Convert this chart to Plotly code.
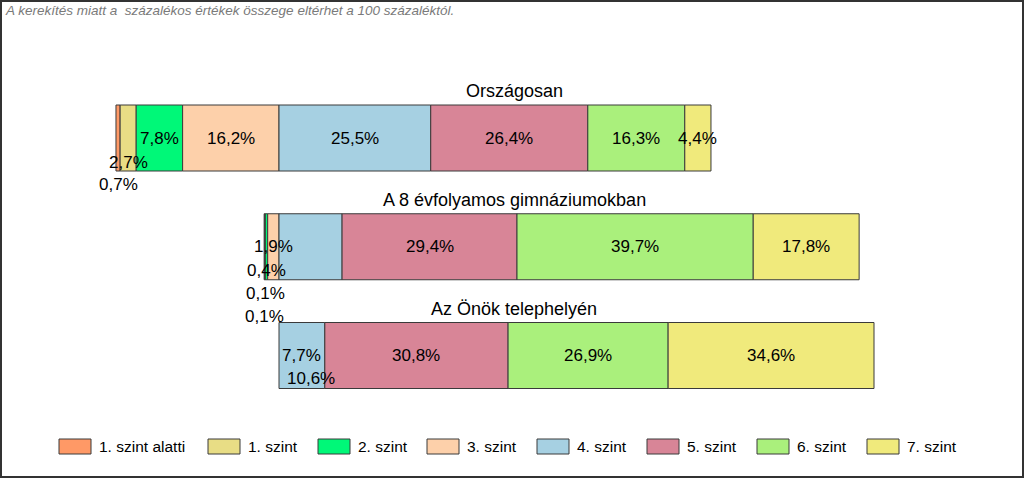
import plotly.graph_objects as go

# ---- data ----
groups = ["Országosan", "A 8 évfolyamos gimnáziumokban", "Az Önök telephelyén"]
levels = ["1. szint alatti", "1. szint", "2. szint", "3. szint",
          "4. szint", "5. szint", "6. szint", "7. szint"]
orszagosan = [0.7, 2.7, 7.8, 16.2, 25.5, 26.4, 16.3, 4.4]
gimnazium8 = [0.1, 0.1, 0.4, 1.9, 10.6, 29.4, 39.7, 17.8]
telephely = [0.0, 0.0, 0.0, 0.0, 7.7, 30.8, 26.9, 34.6]
note = "A kerekítés miatt a  százalékos értékek összege eltérhet a 100 százaléktól."

# ---- style ----
colors = ["#FF9966", "#E8DD85", "#00F878", "#FDD0AA",
          "#A6D0E2", "#D88597", "#AAF07C", "#F0EA7C"]
FONT = "Liberation Sans, Arial, sans-serif"
W, H = 1024, 478
X_ZERO_PX = 279.0      # pixel where level 4 starts
PX_PER_UNIT = 5.95
Y0_PX = 138.0          # pixel of first bar centre
Y_STEP_PX = 108.75
BAR_W = 66 / Y_STEP_PX

# label y-shifts (pixels) for labels that sit outside their segment
label_shift = {
    (0, 0): -46, (0, 1): -24,
    (1, 0): -70, (1, 1): -47, (1, 2): -23.5, (1, 4): -131.5,
}

series = [orszagosan, gimnazium8, telephely]
offsets = [sum(s[:4]) for s in series]

fig = go.Figure()
for li, lvl in enumerate(levels):
    vals = [s[li] for s in series]
    bases = [sum(s[:li]) - off for s, off in zip(series, offsets)]
    lw = [1 if v > 0 else 0 for v in vals]
    fig.add_trace(go.Bar(
        y=groups, x=vals, base=bases, orientation="h", name=lvl,
        width=BAR_W, marker=dict(color=colors[li], line=dict(color="#3a3a3a", width=lw)),
        showlegend=False, hoverinfo="skip",
    ))

annotations = []
# value labels
for gi, s in enumerate(series):
    for li, v in enumerate(s):
        if v <= 0:
            continue
        xc = sum(s[:li]) - offsets[gi] + v / 2
        annotations.append(dict(
            x=xc, y=gi, xref="x", yref="y", showarrow=False,
            text=f"{v:.1f}".replace(".", ",") + "%",
            font=dict(family=FONT, size=17, color="#000000"),
            yshift=label_shift.get((gi, li), 0),
        ))
# group titles
for gi, g in enumerate(groups):
    annotations.append(dict(
        x=514 / W, y=gi, xref="paper", yref="y", showarrow=False,
        text=g, font=dict(family=FONT, size=18, color="#000000"), yshift=47,
    ))
# note
annotations.append(dict(
    x=3 / W, y=1 - 10 / H, xref="paper", yref="paper", showarrow=False,
    xanchor="left", yanchor="middle",
    text=f"<i>{note}</i>", font=dict(family=FONT, size=13.5, color="#7a7a7a"),
))

# legend (manual, wide swatches)
legend_x = [59, 208, 318, 427, 537, 647, 757, 867]
shapes = []
for li, lvl in enumerate(levels):
    x0 = legend_x[li]
    shapes.append(dict(type="rect", xref="paper", yref="paper",
                       x0=x0 / W, x1=(x0 + 32) / W, y0=1 - 454 / H, y1=1 - 439 / H,
                       fillcolor=colors[li], line=dict(color="#3a3a3a", width=1)))
    annotations.append(dict(
        x=(x0 + 38) / W, y=1 - 446.5 / H, xref="paper", yref="paper",
        showarrow=False, xanchor="left", yanchor="middle", text=lvl,
        font=dict(family=FONT, size=15.5, color="#000000"),
    ))
# outer border
shapes.append(dict(type="rect", xref="paper", yref="paper",
                   x0=1 / W, x1=1 - 1 / W, y0=1 / H, y1=1 - 1 / H,
                   line=dict(color="#333333", width=2), layer="above"))

xmin = -X_ZERO_PX / PX_PER_UNIT
xmax = (W - X_ZERO_PX) / PX_PER_UNIT
ytop = -Y0_PX / Y_STEP_PX
ybot = (H - Y0_PX) / Y_STEP_PX

fig.update_layout(
    width=W, height=H, margin=dict(l=0, r=0, t=0, b=0),
    paper_bgcolor="white", plot_bgcolor="white",
    barmode="overlay", showlegend=False,
    xaxis=dict(range=[xmin, xmax], visible=False, fixedrange=True),
    yaxis=dict(range=[ybot, ytop], visible=False, type="category",
               categoryorder="array", categoryarray=groups, fixedrange=True),
    annotations=annotations, shapes=shapes,
)

fig.write_html("out.html", config={"displayModeBar": False},
               post_script="document.body.style.margin='0';document.body.style.overflow='hidden';")
